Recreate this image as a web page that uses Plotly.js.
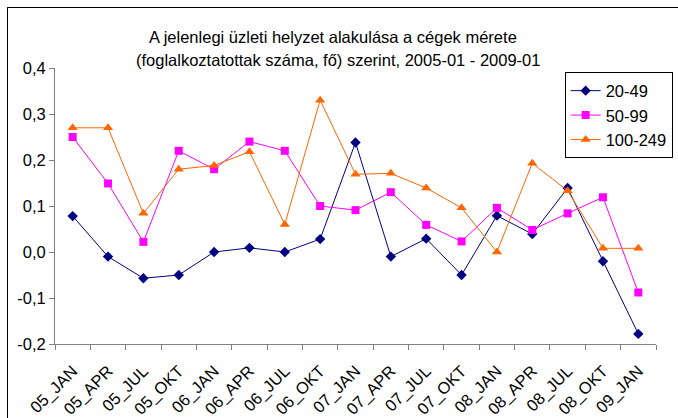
<!DOCTYPE html>
<html>
<head>
<meta charset="utf-8">
<script src="https://cdn.plot.ly/plotly-3.0.1.min.js"></script>
<style>
  html, body { margin: 0; padding: 0; background: #fff; }
  #wrap { position: relative; width: 678px; height: 418px; overflow: hidden; }
  #chart { position: absolute; left: 0; top: 0; width: 678px; height: 418px; }
  #frame { position: absolute; left: 7px; top: 7px; width: 700px; height: 440px; border: 1px solid #000; pointer-events: none; }
</style>
</head>
<body>
<div id="wrap"><div id="chart"></div><div id="frame"></div></div>
<script>
const categories = ["05_JAN","05_APR","05_JUL","05_OKT","06_JAN","06_APR","06_JUL","06_OKT","07_JAN","07_APR","07_JUL","07_OKT","08_JAN","08_APR","08_JUL","08_OKT","09_JAN"];
const s20_49  = [0.078, -0.010, -0.057, -0.050, 0.000, 0.009, 0.000, 0.028, 0.238, -0.010, 0.029, -0.050, 0.079, 0.039, 0.139, -0.020, -0.178];
const s50_99  = [0.250, 0.149, 0.022, 0.220, 0.180, 0.240, 0.220, 0.100, 0.091, 0.130, 0.059, 0.023, 0.096, 0.048, 0.084, 0.119, -0.088];
const s100_249 = [0.270, 0.270, 0.084, 0.180, 0.188, 0.218, 0.060, 0.330, 0.169, 0.171, 0.139, 0.096, 0.000, 0.193, 0.133, 0.008, 0.008];
const seriesNames = ["20-49", "50-99", "100-249"];
const yTickVals = [-0.2, -0.1, 0.0, 0.1, 0.2, 0.3, 0.4];
const yTickText = ["-0,2", "-0,1", "0,0", "0,1", "0,2", "0,3", "0,4"];
const titleLines = ["A jelenlegi üzleti helyzet alakulása a cégek mérete", "(foglalkoztatottak száma, fő) szerint, 2005-01 - 2009-01"];

const font = "Liberation Sans, Arial, sans-serif";
const traces = [
  {x: categories, y: s20_49, name: seriesNames[0], type: "scatter", mode: "lines+markers",
   line: {color: "#000080", width: 1}, marker: {symbol: "diamond", size: 8, color: "#000080"}},
  {x: categories, y: s50_99, name: seriesNames[1], type: "scatter", mode: "lines+markers",
   line: {color: "#FF00FF", width: 1}, marker: {symbol: "square", size: 8, color: "#FF00FF"}},
  {x: categories, y: s100_249, name: seriesNames[2], type: "scatter", mode: "lines+markers",
   line: {color: "#FF6600", width: 1}, marker: {symbol: "triangle-up", size: 9, color: "#FF6600"}}
];

const plotTop = 67.5, plotBottom = 74, plotLeft = 55, plotRight = 5;
const plotH = 418 - plotTop - plotBottom, plotW = 678 - plotLeft - plotRight;

const layout = {
  width: 678, height: 418,
  margin: {l: plotLeft, r: plotRight, t: plotTop, b: plotBottom},
  paper_bgcolor: "rgba(0,0,0,0)", plot_bgcolor: "#fff",
  font: {family: font, size: 16.5, color: "#000"},
  showlegend: true,
  legend: {x: 0.848, y: 0.984, xanchor: "left", yanchor: "top", bgcolor: "#fff",
           bordercolor: "#000", borderwidth: 1, font: {family: font, size: 16.5, color: "#000"}},
  xaxis: {type: "category", range: [-0.5, 16.5], tickson: "boundaries", ticks: "outside", ticklen: 5,
          tickcolor: "#808080", showline: true, linecolor: "#808080", linewidth: 1, showgrid: false,
          tickangle: -45, ticklabelstandoff: 10, tickfont: {family: font, size: 16.5, color: "#000"}, zeroline: false},
  yaxis: {range: [-0.2, 0.4], tickvals: yTickVals, ticktext: yTickText, ticks: "outside", ticklen: 5,
          tickcolor: "#808080", showline: true, linecolor: "#808080", linewidth: 1, showgrid: false,
          zeroline: false, tickfont: {family: font, size: 16.5, color: "#000"}},
  annotations: [
    {text: titleLines[0], xref: "paper", yref: "paper", x: (341 - plotLeft) / plotW, y: 1 + (plotTop - 25) / plotH,
     showarrow: false, font: {family: font, size: 16.5, color: "#000"}},
    {text: titleLines[1], xref: "paper", yref: "paper", x: (346 - plotLeft) / plotW, y: 1 + (plotTop - 48) / plotH,
     showarrow: false, font: {family: font, size: 16.5, color: "#000"}}
  ]
};

Plotly.newPlot("chart", traces, layout, {displayModeBar: false, staticPlot: true});
</script>
</body>
</html>
